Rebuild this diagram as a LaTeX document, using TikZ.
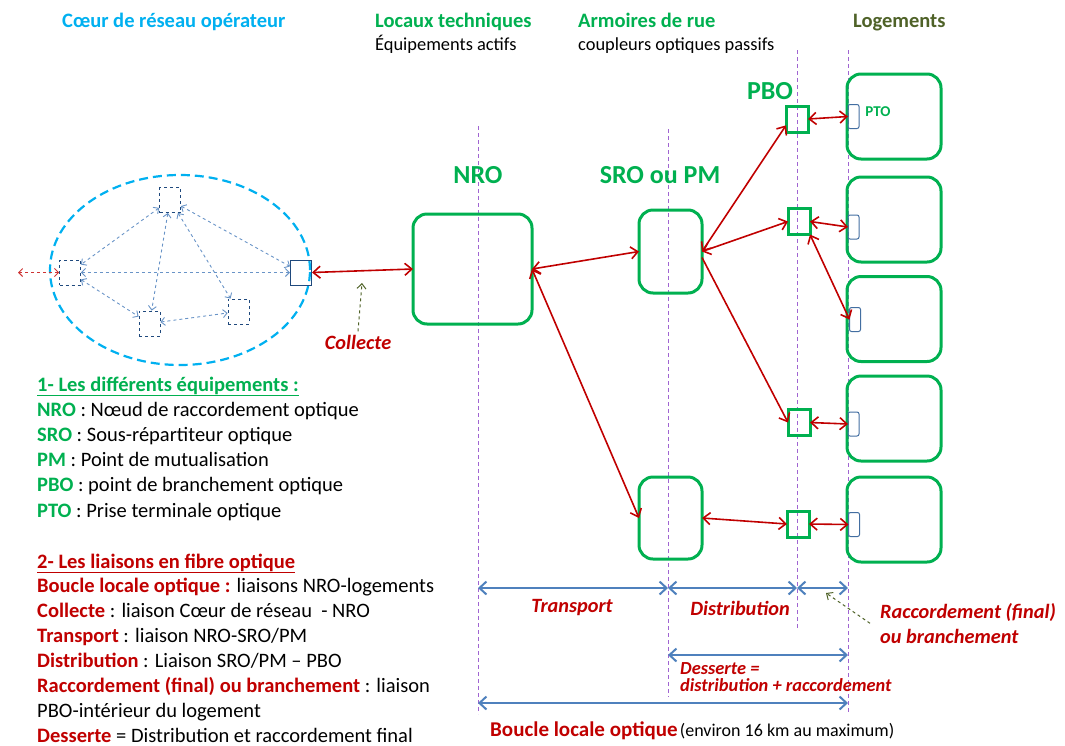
\documentclass[tikz,border=0pt]{standalone}
\usepackage{fontspec}
\setmainfont{Carlito}
\usetikzlibrary{arrows.meta}

\definecolor{rougef}{RGB}{192,0,0}
\definecolor{vertf}{RGB}{0,176,80}
\definecolor{cyanf}{RGB}{0,176,240}
\definecolor{bleuf}{RGB}{79,129,189}
\definecolor{bleuc}{RGB}{31,73,125}
\definecolor{violetf}{RGB}{160,100,210}
\definecolor{olivef}{RGB}{79,98,40}

\newcommand{\legsize}{\fontsize{20.5}{24}\selectfont}

\tikzset{
  box/.style={draw=vertf, line width=3pt, rounded corners=14pt, inner sep=0pt, outer sep=0pt},
  pbobox/.style={draw=vertf, line width=3pt, inner sep=0pt, outer sep=0pt, minimum width=22pt, minimum height=26pt},
  ptobox/.style={draw=bleuf!85!black, line width=1pt, rounded corners=2pt, inner sep=0pt, outer sep=0pt, minimum width=11pt, minimum height=24pt},
  cbox/.style={draw=bleuc, dashed, line width=0.8pt, inner sep=0pt, minimum width=21pt, minimum height=25pt},
  fib/.style={rougef, line width=1.6pt, {Straight Barb[length=7pt,width=12pt]}-{Straight Barb[length=7pt,width=12pt]}},
  cfib/.style={bleuf!85, dashed, line width=0.9pt, {Straight Barb[length=4pt,width=8pt]}-{Straight Barb[length=4pt,width=8pt]}},
  dim/.style={bleuf, line width=2pt, {Straight Barb[length=7pt,width=13pt]}-{Straight Barb[length=7pt,width=13pt]}},
  ptr/.style={olivef, dashed, line width=1pt, -{Straight Barb[length=5pt,width=9pt]}},
  vline/.style={violetf, line width=1pt, dash pattern=on 4pt off 3pt},
  ttl/.style={font=\bfseries\fontsize{20.5}{24}\selectfont, anchor=base west, inner sep=0pt},
  sub/.style={font=\fontsize{18.4}{22}\selectfont, anchor=base west, inner sep=0pt},
  big/.style={font=\bfseries\fontsize{26}{30}\selectfont, text=vertf},
  leg/.style={font=\legsize, anchor=base west, inner sep=0pt},
  lbl/.style={font=\bfseries\itshape\fontsize{20.3}{25}\selectfont, text=rougef, align=left}
}

\begin{document}
\begin{tikzpicture}[x=1pt, y=-1pt]
  \useasboundingbox (0,0) rectangle (1065,745);

  % Headers
  \node[ttl, text=cyanf] (hcoeur) at (62,27) {Cœur de réseau opérateur};
  \node[ttl, text=vertf] (hlocaux) at (375,27) {Locaux techniques};
  \node[sub] (hequip) at (375,50) {Équipements actifs};
  \node[ttl, text=vertf] (harmoire) at (578,27) {Armoires de rue};
  \node[sub] (hcoupl) at (578,50) {coupleurs optiques passifs};
  \node[ttl, text=olivef] (hlog) at (853,27) {Logements};

  % Vertical limits
  \draw[vline] (478,126) -- (478,714);
  \draw[vline] (668,129) -- (668,697);
  \draw[vline] (797,50) -- (797,628);
  \draw[vline] (848,50) -- (848,712);

  % Operator core
  \draw[cyanf, line width=2.2pt, dash pattern=on 9pt off 5pt] (180,270) ellipse [x radius=130pt, y radius=95pt];
  \node[cbox] (cA) at (170,200) {};
  \node[cbox] (cB) at (70,272.5) {};
  \node[cbox, solid, line width=1pt] (cC) at (301,272.5) {};
  \node[cbox] (cD) at (149.5,323.5) {};
  \node[cbox] (cE) at (238.5,311.5) {};
  \coordinate (ext) at (18,272.5);

  \draw[cfib] (cA) -- (cB);
  \draw[cfib] (cA) -- (cC);
  \draw[cfib] (cA) -- (cD);
  \draw[cfib] (cA) -- (cE);
  \draw[cfib] (cB) -- (cC);
  \draw[cfib] (cB) -- (cD);
  \draw[cfib] (cD) -- (cE);
  \draw[cfib, rougef!80] (cB) -- (ext);

  % NRO and SRO / PM
  \node[box, minimum width=119pt, minimum height=110pt] (nro) at (472.5,269) {};
  \node[box, minimum width=63pt, minimum height=83pt] (sroA) at (670.5,251.5) {};
  \node[box, minimum width=63pt, minimum height=82pt] (sroB) at (670.5,518) {};
  \node[big] (lnro) at (478,175) {NRO};
  \node[big] (lsro) at (660,175) {SRO ou PM};

  % PBO
  \node[pbobox] (pboA) at (797,119) {};
  \node[pbobox] (pboB) at (799,221.5) {};
  \node[pbobox] (pboC) at (799,422.5) {};
  \node[pbobox] (pboD) at (798,524) {};
  \node[big] (lpbo) at (770,91) {PBO};

  % Logements and PTO
  \foreach \y [count=\i] in {116.5,219.5,319,418.5,519.5}
    \node[box, minimum width=94pt, minimum height=85pt] (log\i) at (894,\y) {};
  \node[ptobox] (ptoA) at (853.5,116.5) {};
  \node[ptobox] (ptoB) at (853.5,227) {};
  \node[ptobox] (ptoC) at (855,319.5) {};
  \node[ptobox] (ptoD) at (853.5,424) {};
  \node[ptobox] (ptoE) at (854,524.5) {};
  \node[font=\bfseries\fontsize{15}{17}\selectfont, text=vertf] (lpto) at (878,112) {PTO};

  % Fibre links
  \draw[fib] (cC.east) -- (nro.west);
  \draw[fib] (nro.east) -- (sroA.west);
  \draw[fib] (nro.east) -- (sroB.west);
  \draw[fib] (sroA.east) -- (pboA.210);
  \draw[fib] (sroA.east) -- (pboB.west);
  \draw[fib, -{Straight Barb[length=7pt,width=12pt]}] ([yshift=-6pt]sroA.east) -- (pboC.west);
  \draw[fib] (sroB.east) -- (pboD.west);
  \draw[fib] (pboA.east) -- (ptoA.west);
  \draw[fib] (pboB.east) -- (ptoB.west);
  \draw[fib] (pboB.south east) -- (ptoC.west);
  \draw[fib] (pboC.east) -- (ptoD.west);
  \draw[fib] (pboD.east) -- (ptoE.west);

  % Collecte
  \node[lbl] (lcoll) at (358,342) {Collecte};
  \coordinate (pcoll) at (362,283);
  \draw[ptr] (lcoll.north) -- (pcoll);

  % Segments
  \coordinate (sA) at (478,588);
  \coordinate (sB) at (668,588);
  \coordinate (sC) at (797,588);
  \coordinate (sD) at (848,588);
  \draw[dim] (sA) -- (sB);
  \draw[dim] (sB) -- (sC);
  \draw[dim] (sC) -- (sD);
  \node[lbl] (ltrans) at (572,608) {Transport};
  \node[lbl] (ldistr) at (740,608) {Distribution};
  \node[lbl, anchor=north west, inner sep=0pt] (lracc) at (880,603) {Raccordement (final)\\ou branchement};
  \coordinate (pracc) at (826,593);
  \draw[ptr] ([xshift=-10pt]lracc.west) -- (pracc);

  \coordinate (dA) at (668,655);
  \coordinate (dB) at (848,655);
  \draw[dim] (dA) -- (dB);
  \node[lbl, font=\bfseries\itshape\fontsize{18.4}{17}\selectfont, anchor=north west, inner sep=0pt] (ldess) at (680,662) {Desserte =\\distribution + raccordement};

  \coordinate (bA) at (478,703);
  \coordinate (bB) at (848,703);
  \draw[dim] (bA) -- (bB);
  \node[anchor=base west, inner sep=0pt] (lboucle) at (490,736)
    {{\bfseries\fontsize{21}{24}\selectfont\color{rougef}Boucle locale optique} {\fontsize{18}{22}\selectfont(environ 16 km au maximum)}};

  % Legend 1
  \node[leg, font=\bfseries\legsize, text=vertf] (g1) at (37,391) {\underline{1- Les différents équipements :}};
  \node[leg] (g2) at (37,416) {{\bfseries\color{vertf}NRO} : Nœud de raccordement optique};
  \node[leg] (g3) at (37,441) {{\bfseries\color{vertf}SRO} : Sous-répartiteur optique};
  \node[leg] (g4) at (37,466) {{\bfseries\color{vertf}PM} : Point de mutualisation};
  \node[leg] (g5) at (37,491) {{\bfseries\color{vertf}PBO} : point de branchement optique};
  \node[leg] (g6) at (37,517) {{\bfseries\color{vertf}PTO} : Prise terminale optique};

  % Legend 2
  \node[leg, font=\bfseries\legsize, text=rougef] (f1) at (37,568) {\underline{2- Les liaisons en fibre optique}};
  \node[leg] (f2) at (37,592) {{\bfseries\color{rougef}Boucle locale optique :} liaisons NRO-logements};
  \node[leg] (f3) at (37,617) {{\bfseries\color{rougef}Collecte} : liaison Cœur de réseau~ - NRO};
  \node[leg] (f4) at (37,642) {{\bfseries\color{rougef}Transport} : liaison NRO-SRO/PM};
  \node[leg] (f5) at (37,667) {{\bfseries\color{rougef}Distribution} : Liaison SRO/PM – PBO};
  \node[leg] (f6) at (37,692) {{\bfseries\color{rougef}Raccordement (final) ou branchement} : liaison};
  \node[leg] (f7) at (37,717) {PBO-intérieur du logement};
  \node[leg] (f8) at (37,742) {{\bfseries\color{rougef}Desserte} = Distribution et raccordement final};

\end{tikzpicture}
\end{document}
